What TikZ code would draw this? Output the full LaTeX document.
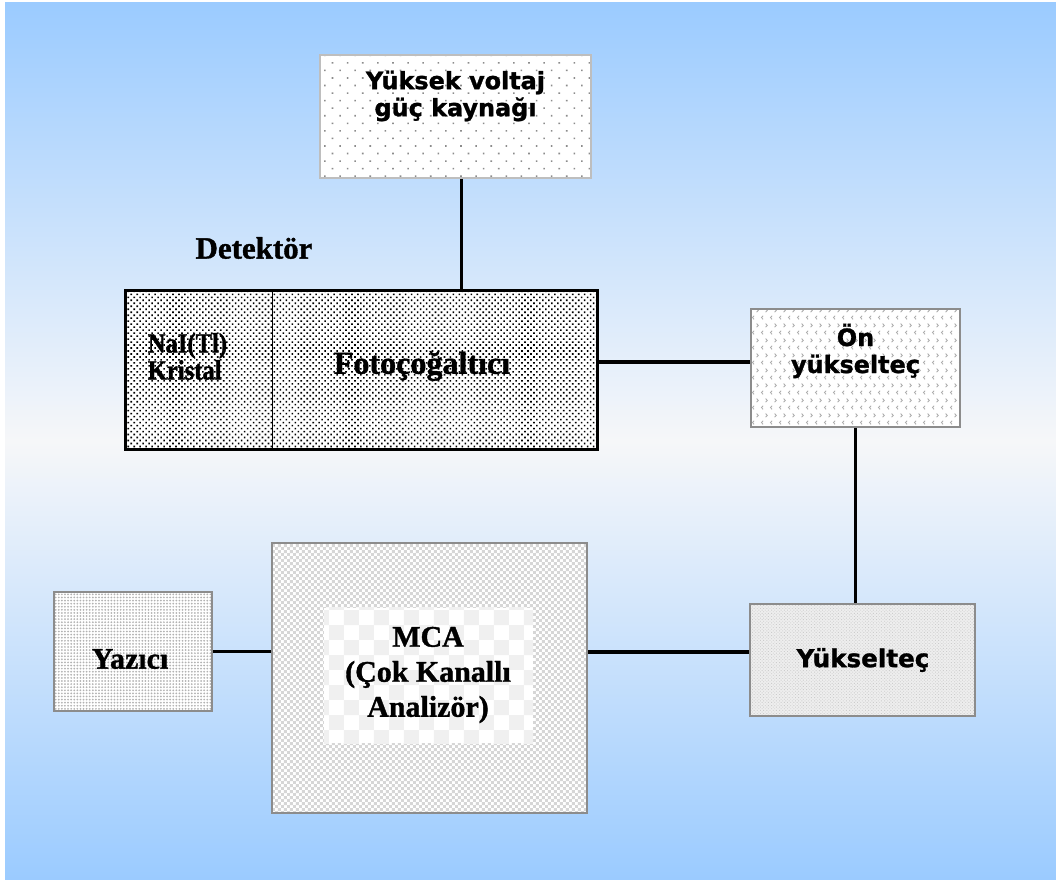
\documentclass[tikz,border=0pt]{standalone}
\usepackage{fontspec}
\setmainfont{Liberation Serif}[BoldFeatures={FakeBold=1.2}]
\newfontfamily\vsans{DejaVu Sans}[BoldFeatures={FakeBold=1.2}]
\newfontfamily\nserif{Liberation Serif}[FakeStretch=0.88, BoldFeatures={FakeBold=1.2}]
\usetikzlibrary{patterns,patterns.meta}

\definecolor{skyblue}{RGB}{155,203,255}
\definecolor{paleblue}{RGB}{246,247,249}
\definecolor{boxgray}{RGB}{140,140,140}
\definecolor{hvgray}{RGB}{190,190,190}

% little < > marks
\tikzdeclarepattern{
	name=chevrons, type=uncolored,
	bounding box={(0pt,0pt) and (6.6pt,10.4pt)},
	tile size={(6.6pt,10.4pt)},
	code={
		\draw[line width=0.6pt] (2.4pt,1.2pt) -- (1.1pt,2.5pt) -- (2.4pt,3.8pt);
		\draw[line width=0.6pt] (4.3pt,6.4pt) -- (5.6pt,7.7pt) -- (4.3pt,9pt);
	}
}
% small and large checks
\tikzdeclarepattern{
	name=finecheck, type=uncolored,
	bounding box={(0pt,0pt) and (4.26pt,4.26pt)},
	tile size={(4.26pt,4.26pt)},
	code={
		\fill (0pt,0pt) rectangle (2.13pt,2.13pt);
		\fill (2.13pt,2.13pt) rectangle (4.26pt,4.26pt);
	}
}
\tikzdeclarepattern{
	name=bigcheck, type=uncolored,
	bounding box={(0pt,0pt) and (21.3pt,21.3pt)},
	tile size={(21.3pt,21.3pt)},
	code={
		\fill (0pt,0pt) rectangle (10.65pt,10.65pt);
		\fill (10.65pt,10.65pt) rectangle (21.3pt,21.3pt);
	}
}

\begin{document}
\begin{tikzpicture}[
	x = 0.025cm, y = -0.025cm, % one unit = one pixel of the sketch
	line width = 2.5pt, % connector lines
	B/.style={rectangle, inner sep=0pt, line width=1.4pt, draw=boxgray, preaction={fill=white}},
	T/.style={inner sep=0pt, align=center, font=\vsans\bfseries\fontsize{17pt}{19.2pt}\selectfont},
	R/.style={inner sep=0pt, align=center, font=\bfseries\fontsize{21.3pt}{24.9pt}\selectfont},
	]

	% Background
	\useasboundingbox (0,0) rectangle (1056,879);
	\fill[white] (0,0) rectangle (1056,879);
	\shade[top color=skyblue, bottom color=skyblue, middle color=paleblue] (5,3) rectangle (1056,879);

	% Boxes
	\node[B, draw=hvgray, minimum width=6.775cm, minimum height=3.075cm,
		pattern={Dots[distance=7.6pt, radius=0.8pt, angle=45]}, pattern color=gray!90] (HV) at (455.5,116.5) {};
	\node[inner sep=0pt, minimum width=3.6cm, minimum height=3.9cm, preaction={fill=white},
		pattern={Dots[distance=3pt, radius=0.8pt, angle=45]}, pattern color=black] (K) at (199,370) {};
	\node[inner sep=0pt, minimum width=8.125cm, minimum height=3.9cm, preaction={fill=white},
		pattern={Dots[distance=3pt, radius=0.8pt, angle=45]}, pattern color=black] (P) at (433.5,370) {};
	\draw[line width=1.9pt] (K.north west) rectangle (P.south east);
	\draw[line width=0.8pt] (K.north east) -- (K.south east);
	\node[B, minimum width=5.225cm, minimum height=2.95cm,
		pattern=chevrons, pattern color=gray!65] (ON) at (855.5,368) {};
	\node[B, minimum width=5.625cm, minimum height=2.8cm, preaction={fill=gray!13},
		pattern={Dots[distance=1.6pt, radius=0.45pt, angle=45]}, pattern color=gray!40] (Y) at (862.5,660) {};
	\node[B, minimum width=7.875cm, minimum height=6.75cm,
		pattern=finecheck, pattern color=gray!32] (M) at (429.5,678) {};
	\node[inner sep=0pt, minimum width=5.225cm, minimum height=3.375cm, preaction={fill=white},
		pattern=bigcheck, pattern color=gray!12] (MI) at (428.5,675.5) {};
	\node[B, minimum width=3.95cm, minimum height=2.975cm,
		pattern={Dots[distance=2.2pt, radius=0.7pt]}, pattern color=gray!60] (Z) at (133,651.5) {};

	% Labels
	\node[T] (HVt) at (455.5,96) {Yüksek voltaj\\güç kaynağı};
	\node[R, font=\bfseries\fontsize{22pt}{26pt}\selectfont] (Dt) at (254,248) {Detektör};
	\node[inner sep=0pt, align=left, anchor=west, font=\nserif\bfseries\fontsize{19.9pt}{19.2pt}\selectfont] (Kt) at (146,356.5) {NaI(Tl)\\Kristal};
	\node[R, font=\bfseries\fontsize{22.8pt}{26pt}\selectfont] (Pt) at (422,366) {Fotoçoğaltıcı};
	\node[T] (ONt) at (855.5,351) {Ön\\yükselteç};
	\node[T, font=\vsans\bfseries\fontsize{17.5pt}{20pt}\selectfont] (Yt) at (863,660) {Yükselteç};
	\node[R] (Mt) at (428,675) {MCA\\(Çok Kanallı\\Analizör)};
	\node[R] (Zt) at (130,659) {Yazıcı};

	% Connectors
	\draw ([xshift=0.15cm]HV.south) -- ([xshift=0.15cm]HV.south |- P.north);
	\draw ([yshift=0.15cm]ON.west) -- ([yshift=0.15cm]ON.west -| P.east);
	\draw (ON.south) -- (ON.south |- Y.north);
	\draw ([yshift=0.2cm]Y.west) -- ([yshift=0.2cm]Y.west -| M.east);
	\draw (Z.east) -- (Z.east -| M.west);
\end{tikzpicture}
\end{document}
